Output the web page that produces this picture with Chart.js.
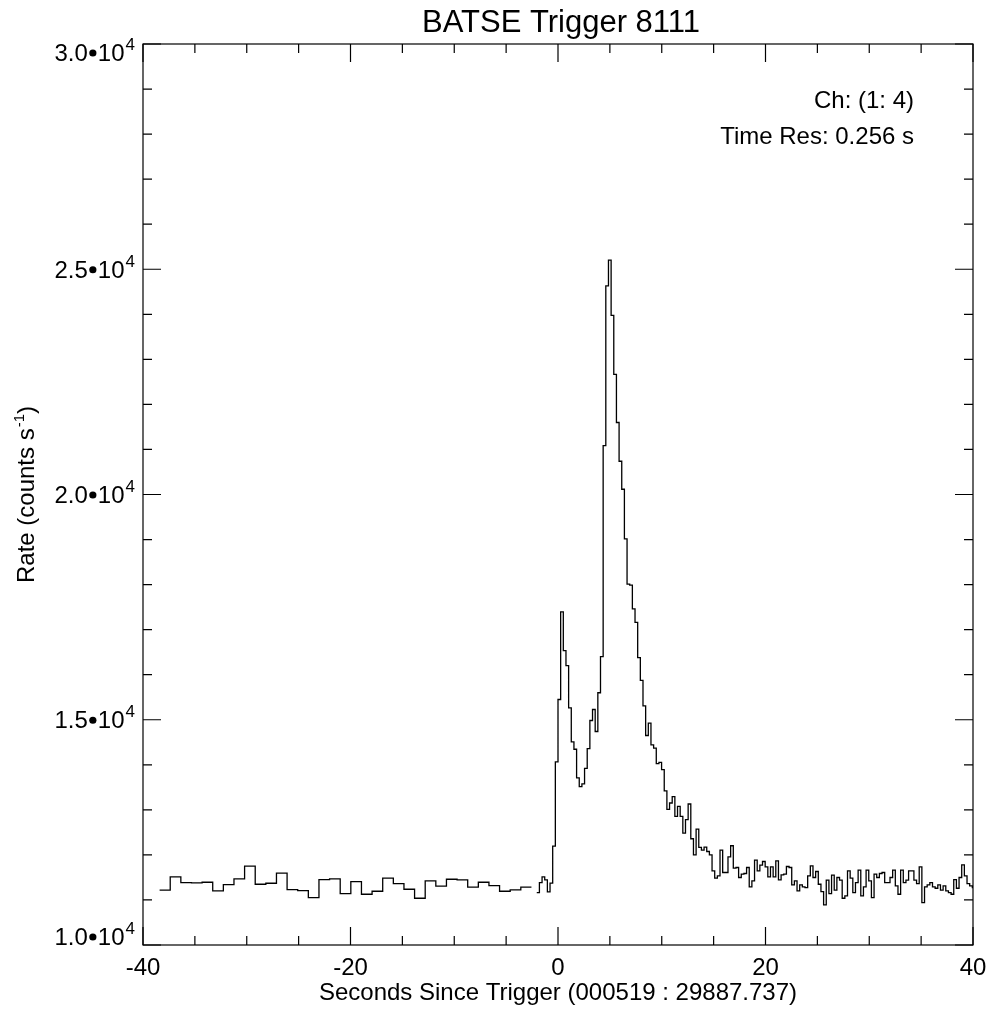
<!DOCTYPE html>
<html>
<head>
<meta charset="utf-8">
<script src="https://cdn.jsdelivr.net/npm/chart.js@4.4.1/dist/chart.umd.min.js"></script>
<style>
  html, body { margin: 0; background: #fff; }
  #wrap { width: 987px; height: 1010px; }
</style>
</head>
<body>
<div id="wrap"><canvas id="chart" width="987" height="1010"></canvas></div>
<script>
// pre-trigger 1.024 s bins
const coarseStart = -38.4;
const coarseWidth = 1.024;
const coarseRates = [
  11217, 11513, 11386, 11378, 11393, 11201, 11342, 11468, 11750, 11349,
  11371, 11595, 11231, 11209, 11053, 11453, 11468, 11142, 11408, 11127,
  11193, 11483, 11364, 11238, 11038, 11423, 11305, 11460, 11445, 11283,
  11393, 11319, 11193, 11223, 11283
];

// 0.256 s bins from -2.048 s
const fineStart = -2.048;
const fineWidth = 0.256;
const fineRates = [
  11164, 11386, 11513, 11446, 11179, 11372, 12195, 14064, 15450, 17393,
  16533, 16200, 15265, 14509, 14345, 13708, 13515, 13575, 13922, 14360,
  14983, 15228, 14739, 15599, 16400, 21086, 24632, 25202, 23978, 22665,
  21598, 20738, 20116, 19017, 18009, 17987, 17460, 17163, 16378, 15873,
  15310, 14650, 14923, 14443, 14368, 14027, 14055, 13893, 13419, 13010,
  13152, 13292, 12855, 13077, 12855, 12485, 12781, 13130, 12358, 12002,
  12574, 12165, 12106, 12173, 12076, 12002, 11646, 11483, 11535, 12106,
  11609, 11609, 11958, 12203, 11706, 11720, 11498, 11572, 11587, 11720,
  11290, 11424, 11884, 11646, 11773, 11853, 11735, 11513, 11735, 11513,
  11869, 11446, 11557, 11572, 11743, 11720, 11335, 11424, 11201, 11335,
  11290, 11275, 11535, 11758, 11498, 11631, 11349, 11186, 10890, 11438,
  11142, 11550, 11216, 11498, 11438, 11038, 11090, 11646, 11483, 11164,
  11386, 11660, 11090, 11290, 11660, 11424, 11053, 11572, 11498, 11587,
  11609, 11386, 11386, 11498, 11660, 11312, 11127, 11660, 11386, 11438,
  11646, 11646, 11438, 11364, 11735, 10942, 11290, 11335, 11386, 11290,
  11260, 11335, 11216, 11312, 11201, 11164, 11127, 11453, 11260, 11498,
  11780, 11535, 11364, 11312, 11275
];

const xMajorTicks = [-40, -20, 0, 20, 40];
const xMinorStep = 5;
const yMajorTicks = [10000, 15000, 20000, 25000, 30000];
const yMinorStep = 1000;

const titleText = 'BATSE Trigger 8111';
const xTitle = 'Seconds Since Trigger (000519 : 29887.737)';
const notes = ['Ch: (1: 4)', 'Time Res: 0.256 s'];

const FONT = "'Liberation Sans', Arial, Helvetica, sans-serif";

// bin starts plus closing edge, drawn as steps
const toSteps = (start, width, rates) => {
  const pts = rates.map((v, i) => ({ x: start + i * width, y: v }));
  pts.push({ x: start + rates.length * width, y: rates[rates.length - 1] });
  return pts;
};

const framePlugin = {
  id: 'frame',
  afterDraw(chart) {
    const { ctx, chartArea: a } = chart;
    const xs = chart.scales.x;
    const ys = chart.scales.y;
    ctx.save();
    ctx.strokeStyle = '#000';
    ctx.lineWidth = 1.2;
    ctx.strokeRect(a.left, a.top, a.right - a.left, a.bottom - a.top);

    ctx.beginPath();
    for (let t = xs.min; t <= xs.max; t += xMinorStep) {
      const px = xs.getPixelForValue(t);
      const len = xMajorTicks.includes(t) ? 18 : 9;
      ctx.moveTo(px, a.bottom); ctx.lineTo(px, a.bottom - len);
      ctx.moveTo(px, a.top); ctx.lineTo(px, a.top + len);
    }
    for (let v = ys.min; v <= ys.max; v += yMinorStep) {
      const py = ys.getPixelForValue(v);
      const len = yMajorTicks.includes(v) ? 18 : 9;
      ctx.moveTo(a.left, py); ctx.lineTo(a.left + len, py);
      ctx.moveTo(a.right, py); ctx.lineTo(a.right - len, py);
    }
    ctx.stroke();

    ctx.fillStyle = '#000';
    ctx.textBaseline = 'alphabetic';

    // title
    ctx.font = `31px ${FONT}`;
    ctx.textAlign = 'center';
    ctx.fillText(titleText, (a.left + a.right) / 2 + 3, 32);

    // x tick labels
    ctx.font = `24px ${FONT}`;
    xMajorTicks.forEach((t) => ctx.fillText(String(t), xs.getPixelForValue(t), 975));
    ctx.fillText(xTitle, (a.left + a.right) / 2, 1000);

    // y tick labels  m.m•10^4
    const capH = 17;
    yMajorTicks.forEach((v) => {
      const py = ys.getPixelForValue(v);
      let base = py + capH / 2;
      base = Math.max(base, a.top + capH);
      base = Math.min(base, a.bottom);
      const right = a.left - 8;
      ctx.font = `17px ${FONT}`;
      const supW = ctx.measureText('4').width;
      ctx.textAlign = 'right';
      ctx.fillText('4', right, base - 11);
      ctx.font = `24px ${FONT}`;
      const tail = '10';
      ctx.fillText(tail, right - supW - 1, base);
      const tw = ctx.measureText(tail).width;
      // round bullet between mantissa and 10
      ctx.beginPath();
      ctx.arc(right - supW - 1 - tw - 5, base - 8, 3.6, 0, Math.PI * 2);
      ctx.fill();
      ctx.fillText((v / 1e4).toFixed(1), right - supW - 1 - tw - 10, base);
    });

    // y title, rotated, with superscript
    ctx.save();
    ctx.translate(34, (a.top + a.bottom) / 2);
    ctx.rotate(-Math.PI / 2);
    ctx.textAlign = 'left';
    ctx.font = `24px ${FONT}`;
    const p1 = 'Rate (counts s';
    const w1 = ctx.measureText(p1).width;
    const w3 = ctx.measureText(')').width;
    ctx.font = `15px ${FONT}`;
    const w2 = ctx.measureText('-1').width;
    const sx = -(w1 + w2 + w3 + 1) / 2;
    ctx.font = `24px ${FONT}`;
    ctx.fillText(p1, sx, 0);
    ctx.font = `15px ${FONT}`;
    ctx.fillText('-1', sx + w1 + 1, -10);
    ctx.font = `24px ${FONT}`;
    ctx.fillText(')', sx + w1 + w2 + 1, 0);
    ctx.restore();

    // channel / resolution notes
    ctx.font = `24px ${FONT}`;
    ctx.textAlign = 'right';
    ctx.fillText(notes[0], 914, 108);
    ctx.fillText(notes[1], 914, 144);
    ctx.restore();
  }
};

const lineStyle = {
  borderColor: '#000',
  borderWidth: 1.3,
  pointRadius: 0,
  fill: false,
  stepped: true,
  tension: 0
};

new Chart(document.getElementById('chart'), {
  type: 'line',
  data: {
    datasets: [
      { label: 'pre', data: toSteps(coarseStart, coarseWidth, coarseRates), ...lineStyle },
      { label: 'post', data: toSteps(fineStart, fineWidth, fineRates), ...lineStyle }
    ]
  },
  options: {
    responsive: false,
    animation: false,
    devicePixelRatio: 1,
    layout: { padding: { left: 143, right: 14, top: 44, bottom: 65 } },
    plugins: { legend: { display: false }, tooltip: { enabled: false }, title: { display: false } },
    scales: {
      x: { type: 'linear', min: -40, max: 40, display: false },
      y: { type: 'linear', min: 10000, max: 30000, display: false }
    }
  },
  plugins: [framePlugin]
});
</script>
</body>
</html>
